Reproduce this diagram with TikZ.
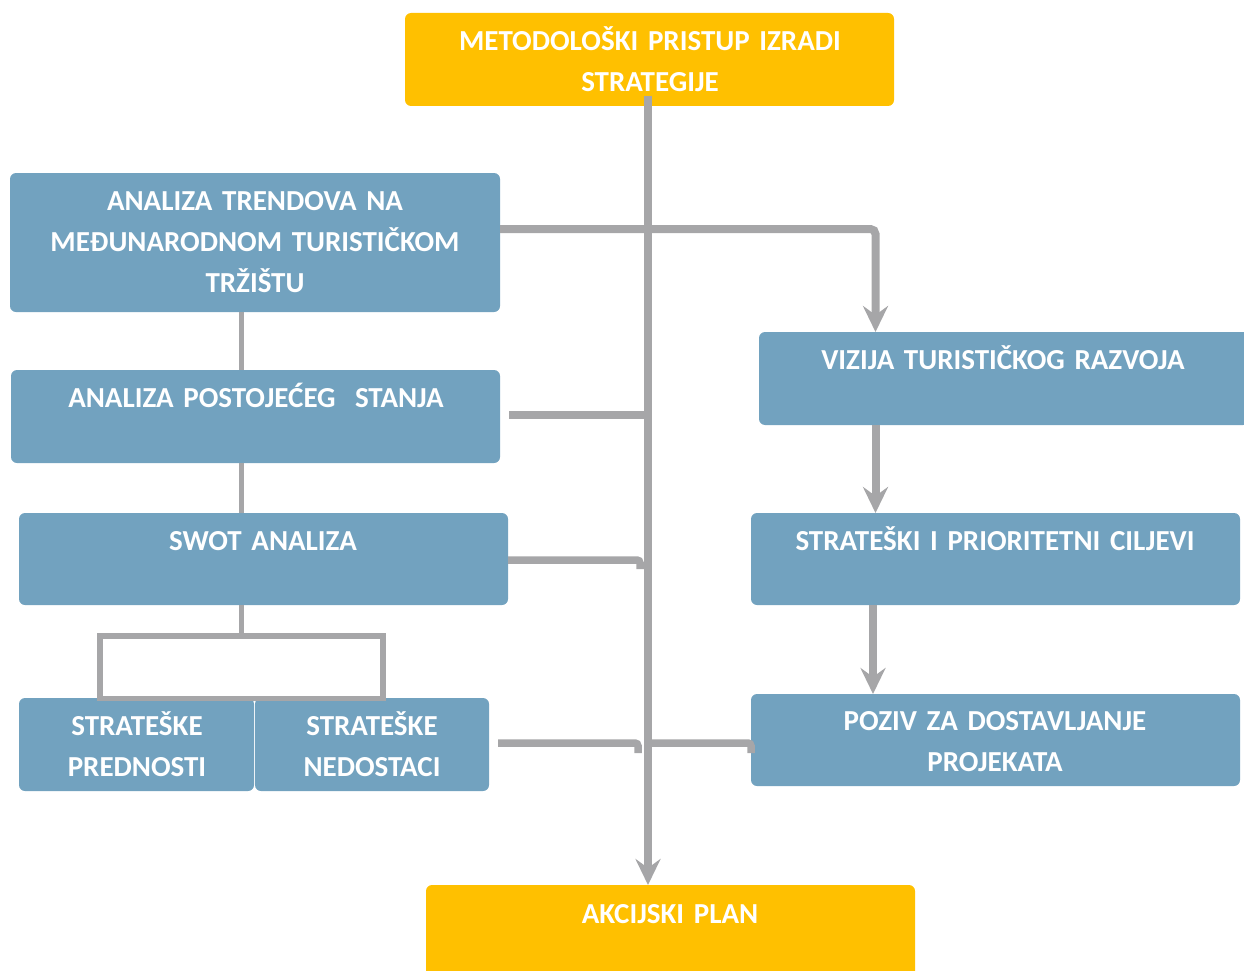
\documentclass[tikz,border=0pt]{standalone}
\usepackage{fontspec}
\setmainfont{Carlito}
\usetikzlibrary{arrows.meta,calc}
\definecolor{yel}{HTML}{FFC000}
\definecolor{blu}{HTML}{72A2BF}
\definecolor{gry}{HTML}{A6A6A8}
\begin{document}
\begin{tikzpicture}[x=1pt,y=-1pt,
  box/.style={rounded corners=6pt, inner sep=0pt, outer sep=0pt, anchor=north west},
  bluebox/.style={box, fill=blu},
  yelbox/.style={box, fill=yel},
  txt/.style={text=white, font=\bfseries\fontsize{29}{41}\selectfont, align=center, text width=#1, inner sep=0pt, anchor=base},
  txt/.default=480pt,
  conn/.style={draw=gry, line width=7.5pt},
  tree/.style={draw=gry, line width=5pt},
  tip/.style={-{Stealth[length=26pt,width=25pt,inset=9pt]}}
]
\useasboundingbox (0,0) rectangle (1244,971);

% boxes
\node[yelbox, minimum width=489pt, minimum height=93pt] (top) at (405,13) {};
\node[bluebox, minimum width=490pt, minimum height=139pt] (trend) at (10,173) {};
\node[bluebox, minimum width=489pt, minimum height=93pt] (post) at (11,370) {};
\node[bluebox, minimum width=489pt, minimum height=92pt] (swot) at (19,513) {};
\node[bluebox, minimum width=235pt, minimum height=93pt] (pred) at (19,698) {};
\node[bluebox, minimum width=234pt, minimum height=93pt] (ned) at (255,698) {};
\node[bluebox, minimum width=490pt, minimum height=93pt] (viz) at (759,332) {};
\node[bluebox, minimum width=489pt, minimum height=92pt] (strat) at (751,513) {};
\node[bluebox, minimum width=489pt, minimum height=92pt] (poziv) at (751,694) {};
\node[yelbox, minimum width=489pt, minimum height=100pt] (akc) at (426,885) {};

% bracket
\node[draw=gry, line width=5.5pt, inner sep=0pt, outer sep=0pt, minimum width=283pt, minimum height=62.5pt, anchor=north west] (br) at (100,636) {};

% trunk
\coordinate (tk) at ([xshift=-1.5pt]top.south);
\draw[conn, line width=8pt, tip] ([yshift=10pt]tk) -- (tk |- akc.north);

% trend -> vizija
\draw[conn, line width=8pt, tip, rounded corners=5pt] ([yshift=13.5pt]trend.east) -| ([xshift=-128.5pt]viz.north);
% vizija -> strat -> poziv
\draw[conn, line width=8pt, tip] ([xshift=-128.5pt]viz.south) -- ([xshift=-128.5pt]viz.south |- strat.north);
\draw[conn, line width=8pt, tip] ([xshift=-122.5pt]strat.south) -- ([xshift=-122.5pt]strat.south |- poziv.north);

% left branches to trunk
\draw[conn, line width=8pt] ([xshift=9pt,yshift=2pt]post.east) -- ([yshift=2pt]post.east -| tk);
\draw[conn, rounded corners=3pt] ([yshift=-1pt]swot.east) -- ++(132,0) -- ++(0,9);
\draw[conn, rounded corners=3pt] ([xshift=9pt,yshift=1.5pt]ned.east) -- ++(140,0) -- ++(0,10);
\draw[conn, rounded corners=3pt] ([yshift=1.5pt]ned.east -| tk) -- ([yshift=1.5pt]ned.east -| poziv.west) -- ++(0,10);

% tree on the left
\draw[tree] (trend.south -| br.north) -- (post.north -| br.north);
\draw[tree] (post.south -| br.north) -- (swot.north -| br.north);
\draw[tree] (swot.south -| br.north) -- (br.north);

% texts
\node[txt] (top-t) at (650,51) {METODOLOŠKI PRISTUP IZRADI\\STRATEGIJE};
\node[txt] (trend-t) at (255,210) {ANALIZA TRENDOVA NA\\MEĐUNARODNOM TURISTIČKOM\\TRŽIŠTU};
\node[txt] (post-t) at (256,407) {ANALIZA POSTOJEĆEG\ \ STANJA};
\node[txt] (swot-t) at (263,550) {SWOT ANALIZA};
\node[txt=230pt] (pred-t) at (137,735) {STRATEŠKE\\PREDNOSTI};
\node[txt=230pt] (ned-t) at (372,735) {STRATEŠKE\\NEDOSTACI};
\node[txt] (viz-t) at (1003,369) {VIZIJA TURISTIČKOG RAZVOJA};
\node[txt] (strat-t) at (995,550) {STRATEŠKI I PRIORITETNI CILJEVI};
\node[txt] (poziv-t) at (995,730) {POZIV ZA DOSTAVLJANJE\\PROJEKATA};
\node[txt] (akc-t) at (670,923) {AKCIJSKI PLAN};
\end{tikzpicture}
\end{document}
